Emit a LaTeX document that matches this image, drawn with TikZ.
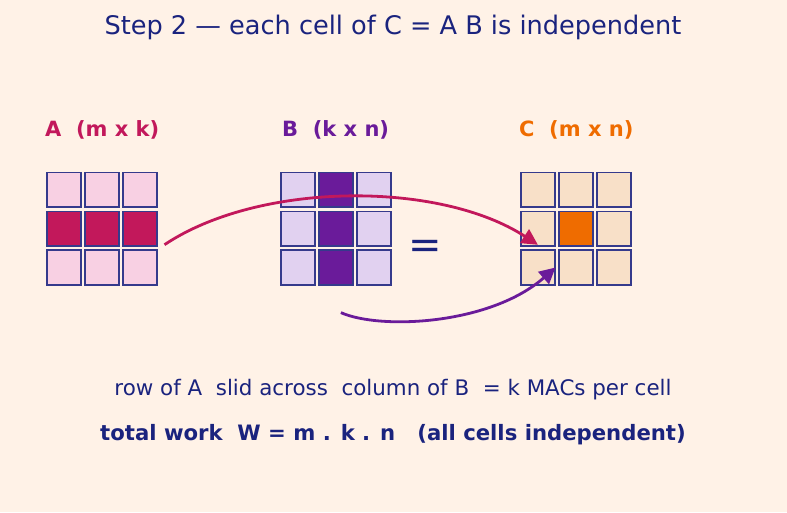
\documentclass[tikz,border=0pt]{standalone}
\usepackage{fontspec}
\setmainfont{DejaVu Sans}
\usetikzlibrary{arrows.meta,calc}
\definecolor{bg}{HTML}{FFF2E7}
\definecolor{navy}{HTML}{1A237E}
\definecolor{pinkd}{HTML}{C2185B}
\definecolor{pinkl}{HTML}{F8D0E3}
\definecolor{purd}{HTML}{6A1B9A}
\definecolor{purl}{HTML}{E1D1F0}
\definecolor{orad}{HTML}{EF6C00}
\definecolor{oral}{HTML}{F8E0C8}
\definecolor{cellborder}{HTML}{353A8C}
\tikzset{
  cell/.style={draw=cellborder, line width=1.6pt, minimum width=33.6pt, minimum height=34.6pt, inner sep=0pt, anchor=north west},
  mlabel/.style={font=\fontsize{21}{24}\selectfont\bfseries, anchor=west, inner sep=0pt},
  flow/.style={line width=2.8pt, -{Triangle[length=16pt,width=16pt]}},
}
\begin{document}
\begin{tikzpicture}[x=1pt,y=-1pt]
\fill[bg] (0,0) rectangle (787,512);
\useasboundingbox (0,0) rectangle (787,512);
\node[text=navy, font=\fontsize{25.6}{28}\selectfont] (title) at (393,27) {Step 2 — each cell of C = A B is independent};
\node[mlabel, text=pinkd] (la) at (45,130) {A\ \ (m x k)};
\node[mlabel, text=purd] (lb) at (282,130) {B\ \ (k x n)};
\node[mlabel, text=orad] (lc) at (519,130) {C\ \ (m x n)};
% grids
\foreach \r in {1,2,3} {
  \foreach \c in {1,2,3} {
    \pgfmathsetmacro{\yy}{171.8+(\r-1)*38.8}
    \pgfmathsetmacro{\xa}{46.3+(\c-1)*38}
    \pgfmathsetmacro{\xb}{280.3+(\c-1)*38}
    \pgfmathsetmacro{\xc}{520.3+(\c-1)*38}
    \ifnum\r=2 \def\fa{pinkd}\else\def\fa{pinkl}\fi
    \ifnum\c=2 \def\fb{purd}\else\def\fb{purl}\fi
    \ifnum\r=2 \ifnum\c=2 \def\fc{orad}\else\def\fc{oral}\fi\else\def\fc{oral}\fi
    \node[cell, fill=\fa] (a\r\c) at (\xa,\yy) {};
    \node[cell, fill=\fb] (b\r\c) at (\xb,\yy) {};
    \node[cell, fill=\fc] (c\r\c) at (\xc,\yy) {};
  }
}
\node[text=navy, font=\fontsize{40}{42}\selectfont] (eq) at (425,249) {=};
\coordinate (pa) at ($(a23.east)+(7,16)$);
\coordinate (pc) at ($(c21.south)+(0,-2)$);
\draw[flow, pinkd] (pa) .. controls (260,181) and (440,181) .. (pc);
\coordinate (qb) at ($(b32.south)+(5,27)$);
\draw[flow, purd] (qb) .. controls (380,330) and (490,325) .. (c31.east);
\node[text=navy, font=\fontsize{21.4}{24}\selectfont] (l1) at (393,390) {row of A\ \ slid across\ \ column of B\ \ = k MACs per cell};
\node[text=navy, font=\fontsize{21.2}{24}\selectfont\bfseries] (l2) at (393,435) {total work\ \ W = m . k . n\ \ \ (all cells independent)};
\end{tikzpicture}
\end{document}
